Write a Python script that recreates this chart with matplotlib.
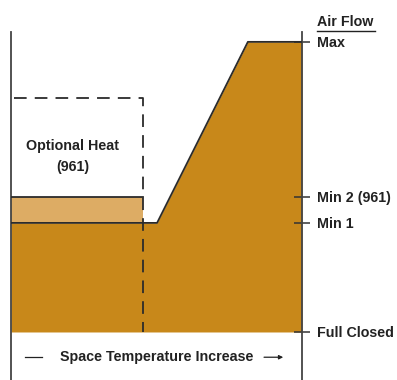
import numpy as np
import matplotlib.pyplot as plt

# airflow levels on the right scale (Full Closed = 0)
levels = ["Full Closed", "Min 1", "Min 2 (961)", "Max"]
level_vals = [0.0, 3.76, 4.66, 10.0]

# airflow schedule vs space temperature
temp = [0.0, 5.02, 8.14, 10.0]
flow = [3.76, 3.76, 10.0, 10.0]

# optional heat band (961)
heat_x = [0.0, 4.54]
heat_top = 4.66
heat_box_top = 8.07

dark = "#C8881A"
light = "#DDAC64"
ink = "#2b2b2b"

plt.rcParams['font.family'] = ['Liberation Sans', 'DejaVu Sans']
fs = 10.3

fig = plt.figure(figsize=(3.97, 3.80), dpi=100)
ax = fig.add_axes([11/397, 0, (302-11)/397, (380-32)/380])
ax.set_xlim(0, 10)
ax.set_ylim(-1.655, 10.34)

ax.fill_between(temp, 0, flow, color=dark, lw=0, zorder=1)
ax.fill_between(heat_x, level_vals[1], heat_top, color=light, lw=0, zorder=1)

ax.plot(temp, flow, color=ink, lw=1.3, zorder=3)
ax.plot(heat_x, [heat_top, heat_top], color=ink, lw=1.3, zorder=3)

# dashed optional heat box
ax.plot([0.1, heat_x[1], heat_x[1]], [heat_box_top, heat_box_top, 0],
        color=ink, lw=1.3, dashes=(7, 4.5), zorder=4)

ax.text(2.13, 6.05, "Optional Heat\n(961)", ha="center", va="center",
        fontsize=fs, fontweight="bold", color="#222", linespacing=1.6)

ax.text(5.0, -0.87, "Space Temperature Increase", ha="center", va="center",
        fontsize=fs, fontweight="bold", color="#222")
ax.plot([0.48, 1.08], [-0.87, -0.87], color="#222", lw=0.9)
ax.annotate("", xy=(9.45, -0.87), xytext=(8.6, -0.87),
            arrowprops=dict(arrowstyle="-|>", color="#222", lw=0.9,
                            mutation_scale=6))

for s in ["top", "bottom"]:
    ax.spines[s].set_visible(False)
ax.spines["left"].set_color("#444")
ax.spines["right"].set_color("#444")
ax.spines["left"].set_linewidth(1.3)
ax.spines["right"].set_linewidth(1.3)

ax.set_xticks([])
ax.yaxis.tick_right()
ax.set_yticks(level_vals)
ax.set_yticklabels(levels, fontsize=fs, fontweight="bold", color="#222")
ax.tick_params(axis="y", direction="inout", length=11, width=1.1,
               color="#333", pad=5)

fig.text(317/397, 1 - 22/380, "Air Flow", ha="left", va="center",
         fontsize=fs, fontweight="bold", color="#222")
fig.add_artist(plt.Line2D([317/397, 375/397], [1 - 31/380, 1 - 31/380],
                          color="#222", lw=1.0))

fig.savefig("out.png", dpi=100)
